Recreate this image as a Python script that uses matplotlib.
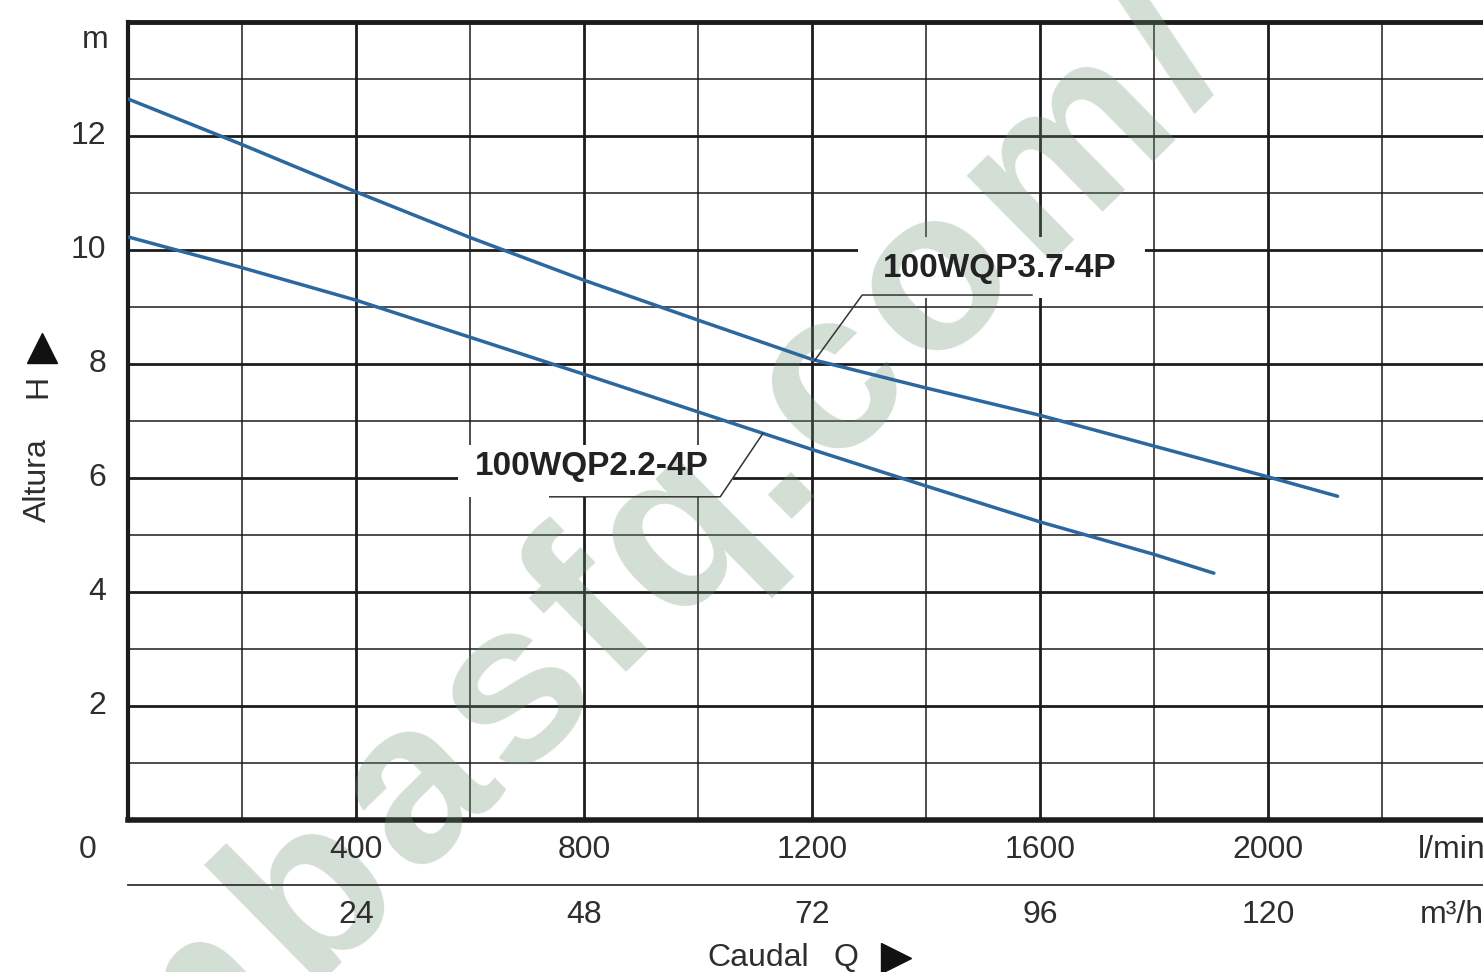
import numpy as np
import matplotlib
matplotlib.use("Agg")
import matplotlib.pyplot as plt
from matplotlib.lines import Line2D
from matplotlib.patches import Rectangle

plt.rcParams['font.family'] = ['Liberation Sans', 'DejaVu Sans']

# ---- data ----
q_37 = [0, 200, 400, 600, 800, 1000, 1200, 1400, 1600, 1800, 2000, 2122]
h_37 = [12.65, 11.85, 11.02, 10.22, 9.47, 8.77, 8.08, 7.58, 7.1, 6.56, 6.02, 5.68]
q_22 = [0, 200, 400, 600, 800, 1000, 1200, 1400, 1600, 1800, 1905]
h_22 = [10.23, 9.69, 9.12, 8.47, 7.82, 7.16, 6.5, 5.86, 5.23, 4.66, 4.33]
name_37 = "100WQP3.7-4P"
name_22 = "100WQP2.2-4P"
x_ticks_lmin = [400, 800, 1200, 1600, 2000]
x_labels_m3h = ["24", "48", "72", "96", "120"]
y_ticks = [2, 4, 6, 8, 10, 12]
watermark = "mbasfq.com/"

W, H = 1483, 972
fig = plt.figure(figsize=(W / 100, H / 100), dpi=100)
fig.patch.set_facecolor("white")
ax = fig.add_axes([128 / W, 152 / H, 1368 / W, 798 / H])
ax.set_xlim(0, 2400)
ax.set_ylim(0, 14)

gc = "#1c1c1c"
ax.set_xticks(range(0, 2401, 400))
ax.set_xticks(range(0, 2401, 200), minor=True)
ax.set_yticks(range(0, 15, 2))
ax.set_yticks(range(0, 15, 1), minor=True)
ax.tick_params(which="both", length=0, labelbottom=False, labelleft=False)
ax.set_axisbelow(True)
ax.grid(which="major", color=gc, lw=2.0)
ax.grid(which="minor", color=gc, lw=1.1)
for s in ["left", "top", "bottom"]:
    ax.spines[s].set_color(gc)
ax.spines["left"].set_linewidth(3.0)
ax.spines["top"].set_linewidth(3.5)
ax.spines["bottom"].set_linewidth(4.0)
ax.spines["right"].set_visible(False)

# curves
curve_c = "#2c68a0"
ax.plot(q_37, h_37, color=curve_c, lw=2.5, zorder=3, solid_capstyle="round")
ax.plot(q_22, h_22, color=curve_c, lw=2.5, zorder=3, solid_capstyle="round")


# label boxes with leader lines
def label(name, cx, cy, box, uline, qcurve, qs, hs):
    x0, x1, y0, y1 = box
    ax.add_patch(Rectangle((x0, y0), x1 - x0, y1 - y0, facecolor="white",
                           edgecolor="none", zorder=2.5))
    ax.text(cx, cy, name, fontsize=24, fontweight="bold", color="#222222",
            ha="center", va="center", zorder=4)
    ux0, ux1, uy, ujoin = uline
    hc = float(np.interp(qcurve, qs, hs))
    if ujoin == "left":
        ax.plot([ux1, ux0, qcurve], [uy, uy, hc], color="#333333", lw=1.1, zorder=3.5)
    else:
        ax.plot([ux0, ux1, qcurve], [uy, uy, hc], color="#333333", lw=1.1, zorder=3.5)


label(name_37, 1530, 9.68, (1281, 1784, 9.16, 10.23), (1288, 1586, 9.21, "left"),
      1205, q_37, h_37)
label(name_22, 814, 6.21, (579, 1061, 5.67, 6.58), (740, 1039, 5.67, "right"),
      1114, q_22, h_22)

# ---- watermark: characters laid along a 45 degree line, semi-transparent ----
adv = {"b": .611, "a": .556, "s": .556, "f": .333, "q": .611, ".": .278,
       "c": .556, "o": .611, "m": .889, "/": .278}
wm_fs = 165
em_px = 249.0
ang = np.deg2rad(44.6)
u = np.array([np.cos(ang), np.sin(ang)])
nrm = np.array([-np.sin(ang), np.cos(ang)])
b_center = np.array([312.0, H - 890.0])
centers = []
cum = 0.0
for ch in watermark:
    centers.append(cum + adv[ch] / 2)
    cum += adv[ch]
ib = watermark.index("b")
for ch, c in zip(watermark, centers):
    p = b_center + u * (c - centers[ib]) * em_px - nrm * 0.27 * wm_fs * 100 / 72
    ax.text(p[0] / W, p[1] / H, ch, fontsize=wm_fs, fontweight="bold",
            color="#6c9173", alpha=0.3, rotation=np.rad2deg(ang),
            rotation_mode="anchor", ha="center", va="baseline",
            transform=fig.transFigure, zorder=2.6, clip_on=False)

# tick labels
tc = "#2e2e2e"
fs = 23
xt = ax.get_xaxis_transform()
for q, m in zip(x_ticks_lmin, x_labels_m3h):
    ax.text(q, -30 / 798, str(q), transform=xt, ha="center", va="center",
            fontsize=fs, color=tc)
    ax.text(q, -95 / 798, m, transform=xt, ha="center", va="center",
            fontsize=fs, color=tc)
ax.text(1418 / W, 1 - 850 / H, "l/min", transform=fig.transFigure, ha="left",
        va="center", fontsize=fs, color=tc)
ax.text(1420 / W, 1 - 915 / H, "m³/h", transform=fig.transFigure, ha="left",
        va="center", fontsize=fs, color=tc)
fig.add_artist(Line2D([128 / W, 1.0], [1 - 885 / H, 1 - 885 / H], color="#333333",
                      lw=1.3, transform=fig.transFigure))

yt = ax.get_yaxis_transform()
for v in y_ticks:
    ax.text(-22 / 1368, v, str(v), transform=yt, ha="right", va="center",
            fontsize=fs, color=tc)
fig.text(88 / W, 1 - 850 / H, "0", ha="center", va="center", fontsize=fs, color=tc)
fig.text(95 / W, 1 - 40 / H, "m", ha="center", va="center", fontsize=fs, color=tc)

# axis titles
fig.text(38 / W, 1 - 480 / H, "Altura", rotation=90, ha="center", va="center",
         fontsize=fs, color=tc)
fig.text(38 / W, 1 - 386 / H, "H", rotation=90, ha="center", va="center",
         fontsize=fs, color=tc)
fig.add_artist(Line2D([42 / W], [1 - 348 / H], marker="^", markersize=22,
                      color="#111111", transform=fig.transFigure))
fig.text(758 / W, 1 - 958 / H, "Caudal", ha="center", va="center",
         fontsize=fs, color=tc)
fig.text(846 / W, 1 - 958 / H, "Q", ha="center", va="center",
         fontsize=fs, color=tc)
fig.add_artist(Line2D([896 / W], [1 - 958 / H], marker=">", markersize=22,
                      color="#111111", transform=fig.transFigure))

fig.savefig("out.png", dpi=100, facecolor="white")
